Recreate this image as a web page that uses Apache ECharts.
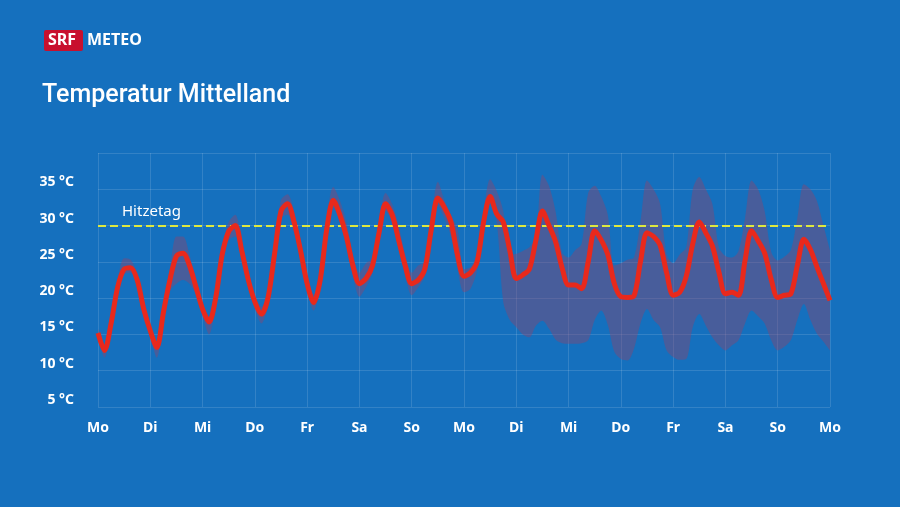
<!DOCTYPE html>
<html>
<head>
<meta charset="utf-8">
<script src="https://cdn.jsdelivr.net/npm/echarts@6/dist/echarts.min.js"></script>
<style>
  html, body { margin: 0; padding: 0; background: #1570be; }
  #chart { width: 900px; height: 507px; }
</style>
</head>
<body>
<div id="chart"></div>
<script>
// day labels on the x axis (one per 24 h)
var dayLabels = ['Mo', 'Di', 'Mi', 'Do', 'Fr', 'Sa', 'So', 'Mo', 'Di', 'Mi', 'Do', 'Fr', 'Sa', 'So', 'Mo'];
var stepsPerDay = 8; // 3-hourly values

// 3-hourly values (°C)
var tempMain = [
	15.2, 12.8, 16.5, 21.5, 24.0, 24.2, 22.5, 18.5,
	15.5, 13.2, 18.0, 22.5, 25.8, 26.2, 24.5, 21.5,
	18.5, 16.7, 20.0, 26.0, 29.2, 30.0, 26.5, 22.5,
	19.5, 17.8, 20.0, 26.0, 32.0, 33.0, 30.5, 26.5,
	22.0, 19.4, 22.5, 29.5, 33.5, 31.5, 28.5, 24.5,
	22.0, 22.7, 24.5, 29.0, 33.0, 31.5, 28.0, 24.5,
	22.0, 22.5, 24.0, 29.5, 33.8, 32.5, 30.5, 26.0,
	23.0, 23.5, 25.0, 30.5, 34.0, 31.6, 30.5, 26.6,
	22.7, 23.2, 24.0, 28.0, 32.0, 30.0, 27.8, 24.2,
	21.8, 21.8, 21.3, 25.0, 29.3, 28.0, 26.0, 22.0,
	20.2, 20.1, 20.3, 25.0, 29.0, 28.5, 27.3, 23.5,
	20.4, 20.8, 23.0, 27.5, 30.5, 29.0, 27.2, 23.6,
	20.6, 20.8, 20.4, 25.2, 29.3, 27.9, 26.2, 22.6,
	20.1, 20.4, 20.6, 24.5, 28.1, 26.7, 24.3, 22.0,
	19.7
];
var tempMax = [
	15.8, 13.5, 17.2, 22.5, 25.5, 25.3, 23.3, 19.2,
	16.2, 14.0, 19.0, 24.0, 28.5, 28.5, 26.0, 22.3,
	19.3, 17.5, 21.0, 27.0, 30.5, 31.5, 28.0, 23.5,
	20.3, 18.8, 21.0, 27.5, 33.5, 34.3, 32.0, 27.5,
	23.0, 20.5, 23.5, 31.0, 35.3, 33.5, 30.5, 26.0,
	23.5, 24.8, 25.5, 30.5, 34.5, 33.0, 30.0, 26.0,
	23.5, 24.5, 25.0, 31.0, 36.0, 33.5, 31.5, 29.5,
	24.0, 24.3, 26.0, 32.0, 36.4, 34.8, 32.0, 26.0,
	26.1, 26.5, 27.0, 28.5, 37.0, 35.5, 32.0, 26.3,
	25.6, 26.6, 27.5, 34.5, 35.5, 34.0, 31.5, 24.5,
	24.8, 25.3, 25.6, 30.5, 36.2, 35.0, 33.0, 26.0,
	24.8, 26.0, 27.0, 35.0, 36.7, 35.0, 33.0, 27.0,
	25.8, 25.6, 26.5, 31.0, 36.2, 35.0, 32.0, 26.4,
	25.2, 25.7, 26.6, 31.0, 35.7, 35.0, 33.4, 30.0,
	26.6
];
var tempMin = [
	14.5, 11.8, 15.5, 20.5, 23.3, 23.5, 21.8, 17.8,
	14.8, 11.8, 17.0, 21.0, 22.0, 22.5, 22.0, 20.5,
	17.5, 15.0, 18.8, 25.0, 28.0, 28.5, 25.5, 21.5,
	18.5, 16.5, 19.0, 25.0, 31.0, 31.5, 29.0, 25.5,
	21.0, 18.3, 21.5, 28.5, 32.5, 30.5, 27.0, 23.0,
	20.2, 21.5, 23.5, 28.0, 32.0, 30.5, 27.0, 23.0,
	20.4, 21.5, 23.0, 28.5, 32.8, 31.0, 28.5, 24.0,
	20.8, 21.3, 23.8, 29.0, 33.0, 30.5, 19.5, 17.0,
	16.0, 15.0, 14.6, 16.2, 16.9, 15.8, 14.3, 13.8,
	13.7, 13.7, 13.8, 14.2, 17.0, 18.3, 16.3, 12.6,
	11.6, 11.4, 13.0, 16.5, 18.5, 17.0, 16.0, 12.8,
	11.9, 11.5, 11.6, 16.0, 17.8, 16.2, 14.6, 13.5,
	12.8, 13.5, 14.2, 16.5, 18.3, 17.5, 16.5, 14.2,
	12.8, 13.3, 14.2, 17.0, 19.2, 17.0, 15.1, 14.0,
	12.8
];
var hitzetag = 30;

var chart = echarts.init(document.getElementById('chart'));

var steps = [], spread = [];
tempMain.forEach(function(v, i) {
	steps.push(String(i));
	spread.push(+(tempMax[i] - tempMin[i]).toFixed(2));
});

function isDayStart(index) {
	return index % stepsPerDay === 0;
}

var font = 'Noto Sans';

var option = {
	backgroundColor: '#1570be',
	animation: false,
	grid: {
		left: 98,
		right: 70,
		top: 153,
		bottom: 100
	},
	graphic: [
		{
			type: 'rect',
			left: 44, top: 30,
			shape: { width: 39, height: 21, r: 2 },
			style: { fill: '#c8102e' }
		},
		{
			type: 'text',
			left: 48, top: 32,
			style: { text: 'SRF', fill: '#fff', font: 'bold 16px ' + font }
		},
		{
			type: 'text',
			left: 87, top: 32,
			style: { text: 'METEO', fill: '#fff', font: 'bold 16px ' + font }
		},
		{
			type: 'text',
			left: 42, top: 83,
			style: { text: 'Temperatur Mittelland', fill: '#fff', font: '500 25px Roboto' }
		}
	],
	xAxis: {
		type: 'category',
		data: steps,
		boundaryGap: false,
		axisLine: { show: false },
		axisTick: { show: false },
		axisLabel: {
			margin: 14,
			interval: isDayStart,
			color: '#fff',
			fontFamily: font,
			fontWeight: 'bold',
			fontSize: 14,
			formatter: function(v, idx) { return dayLabels[Math.round(idx / stepsPerDay)]; }
		},
		splitLine: {
			show: true,
			interval: isDayStart,
			lineStyle: { color: 'rgba(255,255,255,0.13)', width: 1 }
		}
	},
	yAxis: {
		type: 'value',
		min: 5,
		max: 40,
		interval: 5,
		axisLine: { show: false },
		axisTick: { show: false },
		axisLabel: {
			margin: 24,
			color: '#fff',
			fontFamily: font,
			fontWeight: 'bold',
			fontSize: 14,
			verticalAlign: 'bottom',
			formatter: function(v) { return v === 40 ? '' : v + ' °C'; }
		},
		splitLine: {
			show: true,
			lineStyle: { color: 'rgba(255,255,255,0.13)', width: 1 }
		}
	},
	series: [
		{
			name: 'min',
			type: 'line',
			stack: 'band',
			data: tempMin,
			smooth: 0.3,
			symbol: 'none',
			lineStyle: { opacity: 0 },
			silent: true
		},
		{
			name: 'spread',
			type: 'line',
			stack: 'band',
			data: spread,
			smooth: 0.3,
			symbol: 'none',
			lineStyle: { opacity: 0 },
			areaStyle: { color: 'rgba(140, 70, 110, 0.62)' },
			silent: true
		},
		{
			name: 'Temperatur',
			type: 'line',
			data: tempMain,
			smooth: 0.3,
			symbol: 'none',
			lineStyle: { color: '#e8291c', width: 5 },
			z: 5,
			markLine: {
				silent: true,
				symbol: 'none',
				lineStyle: { color: '#dde83f', width: 2, type: [8, 4] },
				label: {
					show: true,
					position: 'insideStartTop',
					distance: [24, 6],
					formatter: 'Hitzetag',
					color: '#fff',
					fontFamily: font,
					fontSize: 15
				},
				data: [{ yAxis: hitzetag }]
			}
		}
	]
};

chart.setOption(option);
</script>
</body>
</html>
